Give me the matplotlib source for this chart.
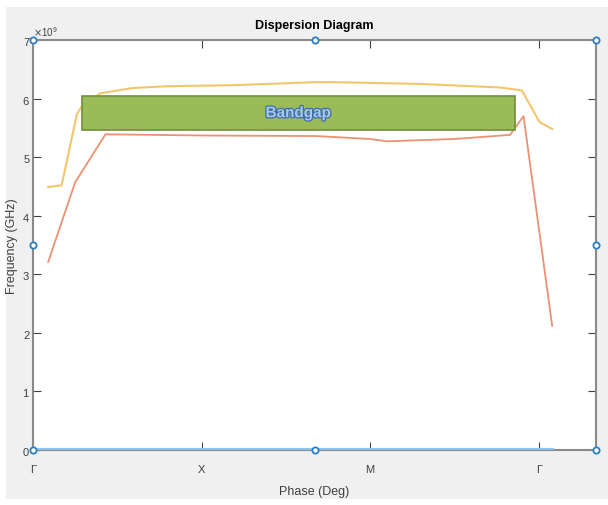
import numpy as np
import matplotlib.pyplot as plt
import matplotlib.patheffects as pe
from matplotlib.patches import Rectangle

# band data (phase index, frequency in GHz)
band1_phase = [0.09, 0.17, 0.26, 0.29, 0.40, 0.59, 0.79, 1.20, 1.68, 1.78, 2.30, 2.77, 2.90, 3.005, 3.08]
band1_freq = [4.49, 4.52, 5.73, 5.87, 6.09, 6.18, 6.21, 6.23, 6.28, 6.28, 6.25, 6.19, 6.14, 5.60, 5.48]

band2_phase = [0.09, 0.25, 0.43, 0.99, 1.68, 2.00, 2.10, 2.50, 2.83, 2.91, 3.08]
band2_freq = [3.21, 4.57, 5.39, 5.37, 5.36, 5.31, 5.27, 5.31, 5.38, 5.70, 2.12]

band0_phase = [0.0, 3.08]
band0_freq = [0.0, 0.0]

gap_phase = [0.29, 2.857]
gap_freq = [5.46, 6.04]

tick_pos = [0, 1, 2, 3]
tick_labels = ['Γ', 'X', 'M', 'Γ']

plt.rcParams['font.family'] = ['Liberation Sans', 'DejaVu Sans']

fig = plt.figure(figsize=(6.08, 5.06), dpi=100, facecolor='white')
fig.patches.append(Rectangle((6 / 608, 6 / 506), 1, 492 / 506, transform=fig.transFigure,
                             facecolor='#f0f0f0', edgecolor='none', zorder=-10))
ax = fig.add_axes([33 / 608, 55 / 506, 563 / 608, 410 / 506])
ax.set_facecolor('white')

ax.plot(band0_phase, np.array(band0_freq) * 1e9, color='#8ec3ea', lw=3, zorder=3)
ax.plot(band1_phase, np.array(band1_freq) * 1e9, color='#f3c66e', lw=1.5)
ax.plot(band2_phase, np.array(band2_freq) * 1e9, color='#ea9273', lw=1.3)

ax.add_patch(Rectangle((gap_phase[0], gap_freq[0] * 1e9), gap_phase[1] - gap_phase[0],
                       (gap_freq[1] - gap_freq[0]) * 1e9,
                       facecolor='#9bbb59', edgecolor='#6f8f3a', lw=1.2, zorder=4))
ax.text((gap_phase[0] + gap_phase[1]) / 2, (gap_freq[0] + gap_freq[1]) / 2 * 1e9, 'Bandgap',
        ha='center', va='center', fontsize=11, color='#a9c8ee', fontweight='bold',
        zorder=5, path_effects=[pe.withStroke(linewidth=1.8, foreground='#3f6fa8')])

ax.set_xlim(0, 3.34)
ax.set_ylim(0, 7e9)
ax.set_yticks(np.arange(0, 8) * 1e9)
ax.set_xticks(tick_pos)
ax.set_xticklabels(tick_labels)
ax.ticklabel_format(axis='y', style='sci', scilimits=(0, 0), useMathText=True)
ax.yaxis.get_offset_text().set_fontsize(7)
ax.yaxis.get_offset_text().set_color('#505050')
ax.tick_params(direction='in', length=6, top=True, right=True, labelsize=8,
               colors='#404040', width=0.8)
ax.tick_params(axis='x', pad=10)
ax.tick_params(axis='y', pad=2)
for s in ax.spines.values():
    s.set_color('#8a8a8a')
    s.set_linewidth(1.5)

ax.set_title('Dispersion Diagram', fontsize=9, fontweight='bold', pad=9)
ax.set_xlabel('Phase (Deg)', fontsize=9, color='#404040', labelpad=8)
ax.set_ylabel('Frequency (GHz)', fontsize=9, color='#404040')
ax.yaxis.set_label_coords(-0.027, 0.5)

# selection handles on the axes box
hx = [0, 0.5, 1, 0, 1, 0, 0.5, 1]
hy = [1, 1, 1, 0.5, 0.5, 0, 0, 0]
ax.plot(hx, hy, 'o', transform=ax.transAxes, ms=4.5, mfc='white', mec='#2a7fc4',
        mew=1.3, clip_on=False, zorder=10, linestyle='none')

fig.savefig('out.png', dpi=100)
